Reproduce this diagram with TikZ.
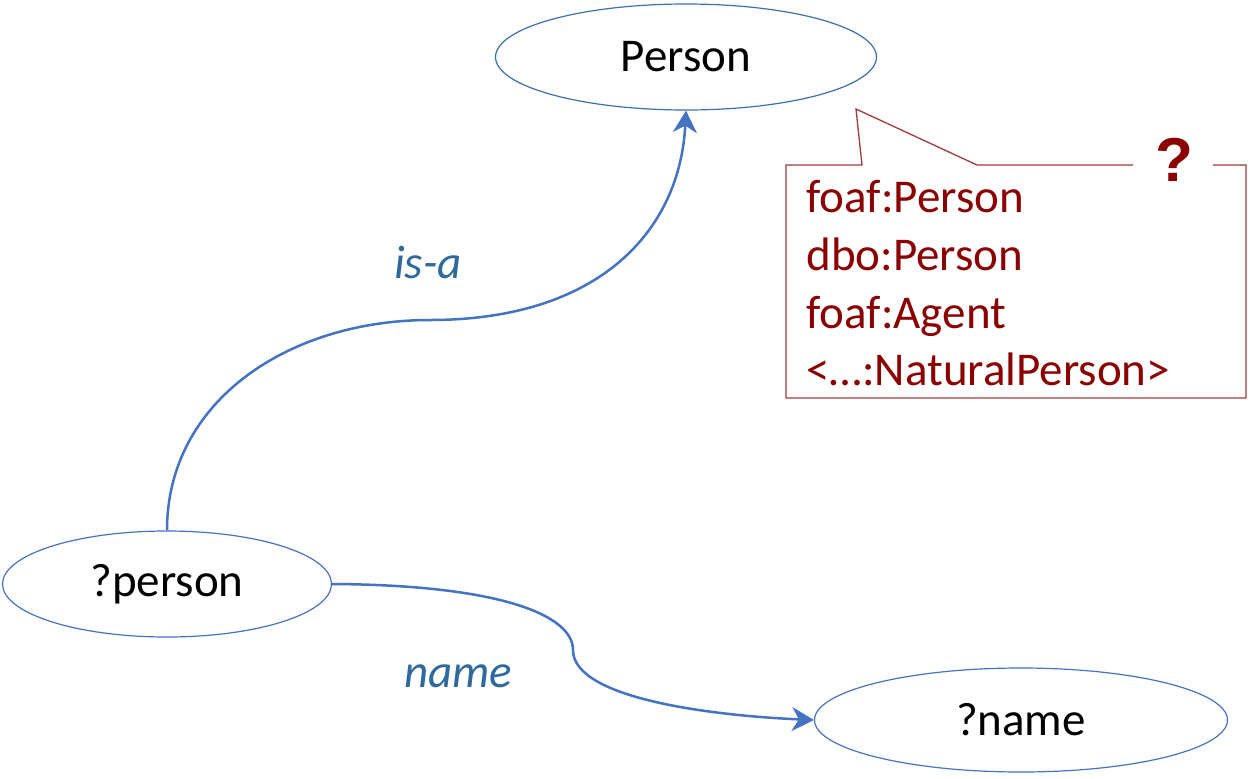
\documentclass[tikz,border=0pt]{standalone}
\usepackage{fontspec}
\setmainfont{Carlito}
\newfontfamily\qfont{Liberation Sans}
\usetikzlibrary{arrows.meta}
\usetikzlibrary{positioning,shapes.geometric}
\definecolor{edgeblue}{HTML}{4472C4}
\definecolor{ringblue}{HTML}{3A70B0}
\definecolor{labelblue}{HTML}{2F6A9C}
\definecolor{darkred}{HTML}{8B0000}
\definecolor{boxred}{HTML}{A03A3A}
\tikzset{
  entity/.style={ellipse,draw=ringblue,line width=0.6pt,inner sep=0pt,
    font=\fontsize{23.5}{29}\selectfont},
  rel/.style={draw=edgeblue,line width=1.25pt,-{Stealth[length=11pt,width=12pt,inset=3.5pt]}},
  rellabel/.style={text=labelblue,font=\fontsize{23.5}{29}\selectfont\itshape},
  candidate/.style={anchor=base west,inner sep=0pt,text=darkred,
    font=\fontsize{23.5}{29}\selectfont},
}
\begin{document}
\begin{tikzpicture}[x=0.5pt,y=-0.5pt]
            \useasboundingbox (0,0) rectangle (1250,778);
            \node[entity,minimum width=190.5pt,minimum height=53pt] (cls) at (686,57) {Person};
            \node[entity,draw=edgeblue,minimum width=164.5pt,minimum height=53pt] (pers) at (167,584) {?person};
            \node[entity,draw=edgeblue,minimum width=206.5pt,minimum height=52pt] (nm) at (1021,720) {?name};
            \draw[rel] (pers.north) .. controls (167,400) and (290,320) .. (430,320)
                       .. controls (600,320) and (680,230) .. (cls.south);
            \draw[rel] (pers.east) .. controls (500,585) and (573,615) .. (573,650)
                       .. controls (573,700) and (720,716) .. (nm.west);
            \node[rellabel] (isa) at (428,262) {is-a};
            \node[rellabel] (hasname) at (458,676) {name};
            % callout with the candidate classes
            \draw[boxred,line width=0.65pt] (1213,165) -- (1246,165) -- (1246,398) -- (786,398)
                -- (786,165) -- (862,165) -- (856,109) -- (977,165) -- (1133,165);
            \node[text=darkred,font=\qfont\bfseries\fontsize{31}{36}\selectfont] (q) at (1174,160) {?};
            \node[candidate] (c1) at (806,212) {foaf:Person};
            \node[candidate] (c2) at (806,270) {dbo:Person};
            \node[candidate] (c3) at (806,328) {foaf:Agent};
            \node[candidate] (c4) at (806,385) {<…:NaturalPerson>};
          \end{tikzpicture}
\end{document}
